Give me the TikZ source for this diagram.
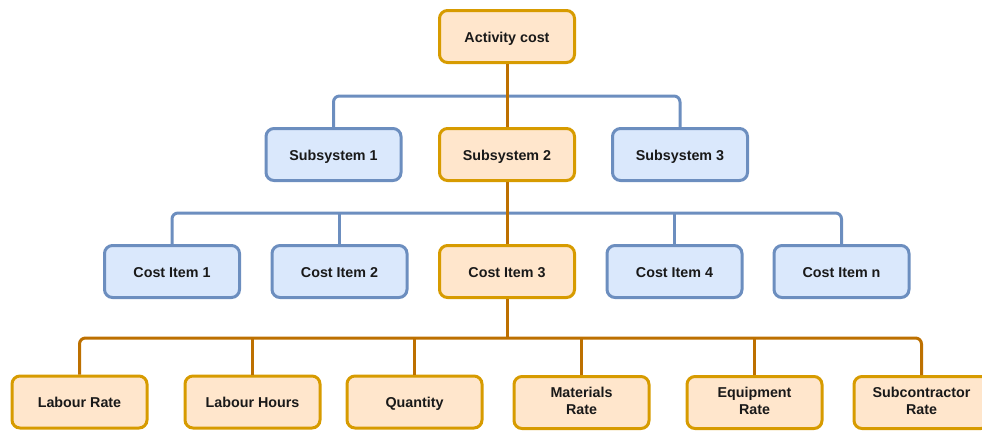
\documentclass[tikz,border=0pt]{standalone}
\usepackage{fontspec}
\setmainfont{Liberation Sans}
\definecolor{ofill}{HTML}{FFE6CC}
\definecolor{odraw}{HTML}{D79B00}
\definecolor{oline}{HTML}{BD7000}
\definecolor{bfill}{HTML}{DAE8FC}
\definecolor{bdraw}{HTML}{6C8EBF}
\tikzset{
  boxbase/.style={rounded corners=8pt, line width=3pt, minimum width=135pt, minimum height=52pt,
    font=\fontsize{14.3}{17}\selectfont\bfseries, align=center, text=black!90, inner sep=2pt,
    execute at begin node={\rule[-3.5pt]{0pt}{18.5pt}}},
  twoline/.style={execute at begin node={}, execute at end node={\\[-2pt]\rule{0pt}{0pt}}},
  obox/.style={boxbase, fill=ofill, draw=odraw},
  bbox/.style={boxbase, fill=bfill, draw=bdraw},
  oconn/.style={draw=oline, line width=3pt, rounded corners=6pt},
  bconn/.style={draw=bdraw, line width=3pt, rounded corners=6pt}
}
\begin{document}
\begin{tikzpicture}[x=1pt,y=-1pt]
\useasboundingbox (0,0) rectangle (982,432);
% coordinates for buses
\coordinate (j1) at (507,96);
\coordinate (j2) at (507,213);
\coordinate (j3) at (507,338);
% nodes
\node[obox] (act) at (507,36.5) {Activity cost};
\node[bbox] (s1) at (333.5,154.5) {Subsystem 1};
\node[obox] (s2) at (507,154.5) {Subsystem 2};
\node[bbox] (s3) at (680,154.5) {Subsystem 3};
\node[bbox] (c1) at (172,271.5) {Cost Item 1};
\node[bbox] (c2) at (339.5,271.5) {Cost Item 2};
\node[obox] (c3) at (507,271.5) {Cost Item 3};
\node[bbox] (c4) at (674.5,271.5) {Cost Item 4};
\node[bbox] (cn) at (841.5,271.5) {Cost Item n};
\node[obox] (l1) at (79.5,402) {Labour Rate};
\node[obox] (l2) at (252.5,402) {Labour Hours};
\node[obox] (l3) at (414.5,402) {Quantity};
\node[obox, twoline] (l4) at (581.5,402.5) {Materials\\Rate};
\node[obox, twoline] (l5) at (754.5,402.5) {Equipment\\Rate};
\node[obox, twoline] (l6) at (921.5,402.5) {Subcontractor\\Rate};
% level 1 connectors
\draw[bconn] (s1.north) |- (j1) -| (s3.north);
\draw[oconn] (act.south) -- (s2.north);
% level 2
\draw[bconn] (c1.north) |- (j2) -| (cn.north);
\draw[bconn] (c2.north) -- (c2.north |- j2);
\draw[bconn] (c4.north) -- (c4.north |- j2);
\draw[oconn] (s2.south) -- (c3.north);
% level 3
\draw[oconn] (l1.north) |- (j3) -| (l6.north);
\draw[oconn] (l2.north) -- (l2.north |- j3);
\draw[oconn] (l3.north) -- (l3.north |- j3);
\draw[oconn] (l4.north) -- (l4.north |- j3);
\draw[oconn] (l5.north) -- (l5.north |- j3);
\draw[oconn] (c3.south) -- (j3);
\end{tikzpicture}
\end{document}
